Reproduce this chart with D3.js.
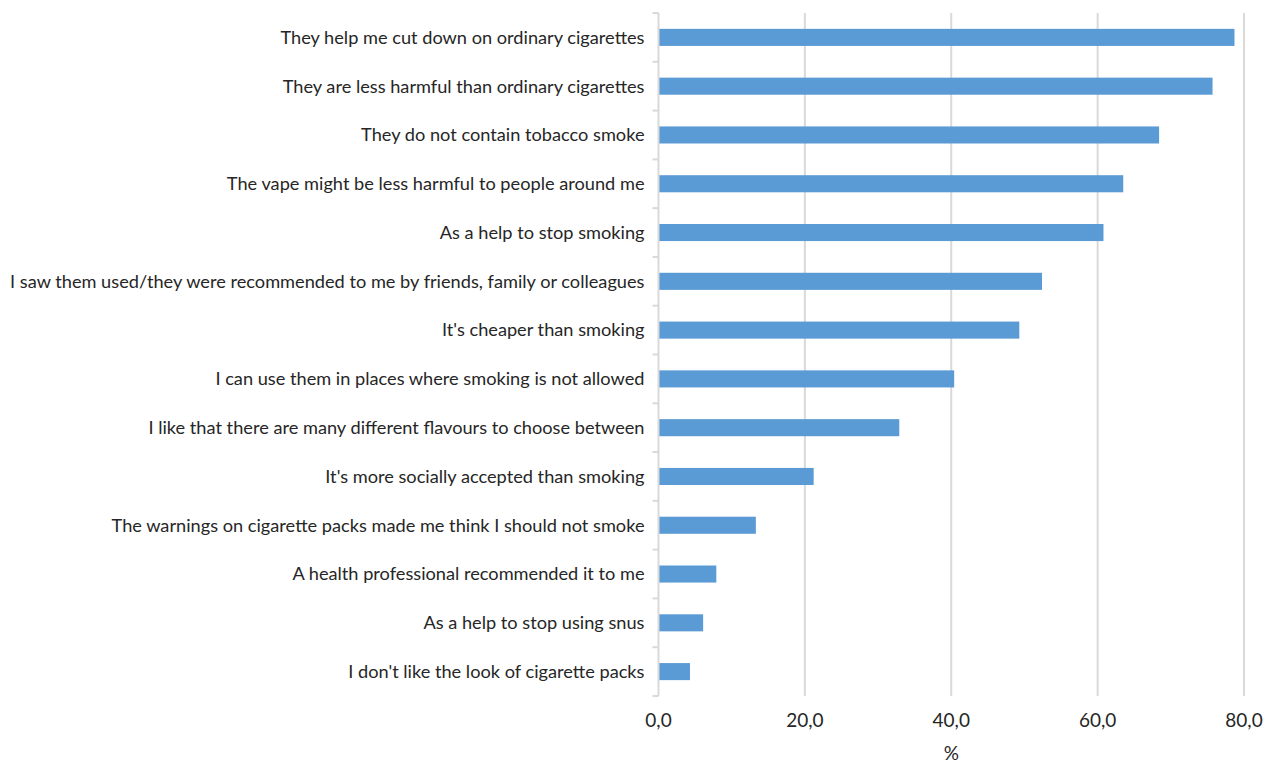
<!DOCTYPE html>
<html lang="en">
<head>
  <meta charset="utf-8">
  <script src="https://d3js.org/d3.v7.min.js"></script>
  <style>
    body { margin: 0; background: #fff; }
    text { font-family: Lato, "Open Sans", sans-serif; fill: #262626; }
  </style>
</head>
<body>
<script>
  // reasons for using e-cigarettes, top to bottom
  var categories = [
    "They help me cut down on ordinary cigarettes",
    "They are less harmful than ordinary cigarettes",
    "They do not contain tobacco smoke",
    "The vape might be less harmful to people around me",
    "As a help to stop smoking",
    "I saw them used/they were recommended to me by friends, family or colleagues",
    "It's cheaper than smoking",
    "I can use them in places where smoking is not allowed",
    "I like that there are many different flavours to choose between",
    "It's more socially accepted than smoking",
    "The warnings on cigarette packs made me think I should not smoke",
    "A health professional recommended it to me",
    "As a help to stop using snus",
    "I don't like the look of cigarette packs"
  ];
  var values = [78.7, 75.7, 68.4, 63.5, 60.8, 52.4, 49.3, 40.4, 32.9, 21.2, 13.3, 7.9, 6.1, 4.3];
  var xTicks = [0, 20, 40, 60, 80];
  var xTitle = "%";

  const width = 1266, height = 763;
  const margin = {left: 658.5, right: 22, top: 13, bottom: 67};

  const svg = d3.select("body").append("svg")
    .attr("width", width).attr("height", height);

  const x = d3.scaleLinear().domain([0, 80]).range([margin.left, width - margin.right]);
  const y = d3.scaleBand().domain(categories).range([margin.top, height - margin.bottom]).paddingInner(0.65).paddingOuter(0.325);
  const band = d3.scaleBand().domain(categories).range([margin.top, height - margin.bottom]);

  // gridlines
  svg.append("g").selectAll("line")
    .data(xTicks.slice(1)).enter().append("line")
    .attr("x1", d => x(d)).attr("x2", d => x(d))
    .attr("y1", margin.top).attr("y2", height - margin.bottom)
    .attr("stroke", "#d9d9d9").attr("stroke-width", 2);

  // bars
  svg.append("g").selectAll("rect")
    .data(values).enter().append("rect")
    .attr("x", x(0))
    .attr("y", (d, i) => y(categories[i]))
    .attr("width", d => x(d) - x(0))
    .attr("height", y.bandwidth())
    .attr("fill", "#5b9bd5");

  // category axis
  var yAxis = svg.append("g");
  yAxis.append("line")
    .attr("x1", x(0)).attr("x2", x(0))
    .attr("y1", margin.top).attr("y2", height - margin.bottom)
    .attr("stroke", "#d9d9d9").attr("stroke-width", 2);
  yAxis.selectAll(".tk")
    .data(categories.concat(["end"])).enter().append("line")
    .attr("class", "tk")
    .attr("x1", x(0) - 6).attr("x2", x(0))
    .attr("y1", (d, i) => i < categories.length ? band(d) : band.range()[1])
    .attr("y2", (d, i) => i < categories.length ? band(d) : band.range()[1])
    .attr("stroke", "#d9d9d9").attr("stroke-width", 2);
  yAxis.selectAll("text")
    .data(categories).enter().append("text")
    .attr("x", x(0) - 14)
    .attr("y", d => band(d) + band.bandwidth() / 2)
    .attr("dy", "0.35em")
    .attr("text-anchor", "end")
    .style("font-size", "18.2px")
    .text(d => d);

  // value tick labels
  svg.append("g").selectAll("text")
    .data(xTicks).enter().append("text")
    .attr("x", d => x(d))
    .attr("y", 727)
    .attr("text-anchor", "middle")
    .style("font-size", "19px")
    .text(d => d.toFixed(1).replace(".", ","));

  svg.append("text")
    .attr("x", x(40))
    .attr("y", 760)
    .attr("text-anchor", "middle")
    .style("font-size", "19px")
    .text(xTitle);
</script>
</body>
</html>
